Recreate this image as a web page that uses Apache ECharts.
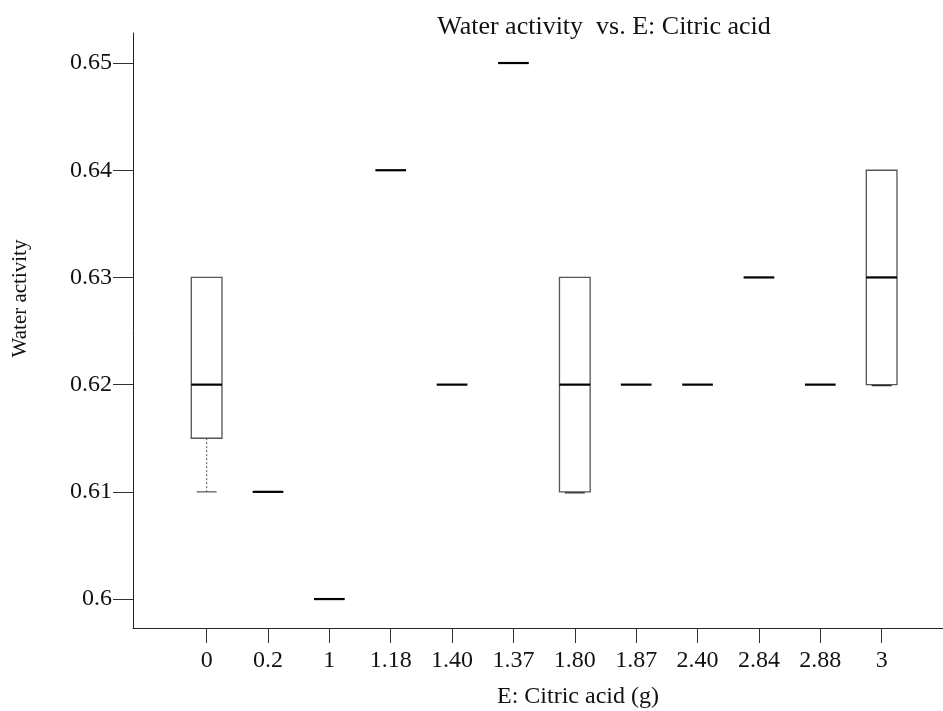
<!DOCTYPE html>
<html>
<head>
<meta charset="utf-8">
<script src="https://cdn.jsdelivr.net/npm/echarts@6/dist/echarts.min.js"></script>
<style>html,body{margin:0;padding:0;background:#fff}#c{width:943px;height:711px}</style>
</head>
<body>
<div id="c"></div>
<script>
const categories = ['0','0.2','1','1.18','1.40','1.37','1.80','1.87','2.40','2.84','2.88','3'];
const minVals    = [0.61, 0.61, 0.60, 0.64, 0.62, 0.65, 0.61, 0.62, 0.62, 0.63, 0.62, 0.62];
const q1Vals     = [0.615,0.61, 0.60, 0.64, 0.62, 0.65, 0.61, 0.62, 0.62, 0.63, 0.62, 0.62];
const medianVals = [0.62, 0.61, 0.60, 0.64, 0.62, 0.65, 0.62, 0.62, 0.62, 0.63, 0.62, 0.63];
const q3Vals     = [0.63, 0.61, 0.60, 0.64, 0.62, 0.65, 0.63, 0.62, 0.62, 0.63, 0.62, 0.64];
const maxVals    = [0.63, 0.61, 0.60, 0.64, 0.62, 0.65, 0.63, 0.62, 0.62, 0.63, 0.62, 0.64];
const yTicks = [0.6, 0.61, 0.62, 0.63, 0.64, 0.65];

const positions = categories.map((_, i) => i);
const data = categories.map((_, i) => [i, minVals[i], q1Vals[i], medianVals[i], q3Vals[i], maxVals[i]]);

const serif = 'Liberation Serif';
const chart = echarts.init(document.getElementById('c'), null, {renderer: 'canvas'});

function renderItem(params, api) {
  const x = api.value(0);
  const lo = api.coord([x, api.value(1)]);
  const q1 = api.coord([x, api.value(2)]);
  const md = api.coord([x, api.value(3)]);
  const q3 = api.coord([x, api.value(4)]);
  const hi = api.coord([x, api.value(5)]);
  const cx = md[0];
  const half = api.size([1, 0])[0] * 0.25;
  const capHalf = half * 0.65;
  const children = [];
  const hasBox = q1[1] - q3[1] > 0.5;
  if (hasBox) {
    children.push({type: 'rect', shape: {x: cx - half, y: q3[1], width: half * 2, height: q1[1] - q3[1]},
      style: {fill: '#fff', stroke: '#555', lineWidth: 1.3}});
    if (lo[1] - q1[1] > 0.5) {
      children.push({type: 'line', shape: {x1: cx, y1: q1[1], x2: cx, y2: lo[1]},
        style: {stroke: '#666', lineWidth: 1.2, lineDash: [2, 2]}});
      children.push({type: 'line', shape: {x1: cx - capHalf, y1: lo[1], x2: cx + capHalf, y2: lo[1]},
        style: {stroke: '#555', lineWidth: 1.2}});
    } else {
      children.push({type: 'line', shape: {x1: cx - capHalf, y1: lo[1] + 1, x2: cx + capHalf, y2: lo[1] + 1},
        style: {stroke: '#222', lineWidth: 1.2}});
    }
    if (q3[1] - hi[1] > 0.5) {
      children.push({type: 'line', shape: {x1: cx, y1: q3[1], x2: cx, y2: hi[1]},
        style: {stroke: '#666', lineWidth: 1.2, lineDash: [2, 2]}});
      children.push({type: 'line', shape: {x1: cx - capHalf, y1: hi[1], x2: cx + capHalf, y2: hi[1]},
        style: {stroke: '#555', lineWidth: 1.2}});
    }
  }
  children.push({type: 'line', shape: {x1: cx - half, y1: md[1], x2: cx + half, y2: md[1]},
    style: {stroke: '#000', lineWidth: 2.2}});
  return {type: 'group', children};
}

chart.setOption({
  backgroundColor: '#fff',
  animation: false,
  title: {
    text: 'Water activity  vs. E: Citric acid',
    left: 599, top: 9, textAlign: 'center',
    textStyle: {fontFamily: serif, fontWeight: 'normal', fontSize: 26, color: '#111'}
  },
  grid: {left: 133, right: 0, top: 33, bottom: 83, outerBoundsMode: 'none', containLabel: false},
  xAxis: {
    type: 'value', min: -1.2, max: 12,
    splitLine: {show: false},
    axisLine: {show: true, onZero: false, lineStyle: {color: '#222', width: 1}},
    axisTick: {show: true, customValues: positions, length: 15, lineStyle: {color: '#333'}},
    axisLabel: {customValues: positions, margin: 21, fontFamily: serif, fontSize: 24, color: '#111',
      formatter: v => categories[Math.round(v)]},
    name: 'E: Citric acid (g)', nameLocation: 'middle', nameGap: 57,
    nameTextStyle: {fontFamily: serif, fontSize: 24, color: '#111', padding: [0, 0, 0, 80]}
  },
  yAxis: {
    type: 'value', min: 0.5973, max: 0.6528,
    splitLine: {show: false},
    axisLine: {show: true, onZero: false, lineStyle: {color: '#222', width: 1}},
    axisTick: {show: true, customValues: yTicks, length: 20, lineStyle: {color: '#333'}},
    axisLabel: {customValues: yTicks, margin: 21, fontFamily: serif, fontSize: 24, color: '#111',
      formatter: v => String(Math.round(v * 100) / 100)},
    name: 'Water activity', nameLocation: 'middle', nameGap: 102,
    nameTextStyle: {fontFamily: serif, fontSize: 21, color: '#111', padding: [0, 0, 0, 64]}
  },
  series: [{
    type: 'custom',
    renderItem: renderItem,
    encode: {x: 0, y: [1, 2, 3, 4, 5]},
    data: data
  }]
});
</script>
</body>
</html>
